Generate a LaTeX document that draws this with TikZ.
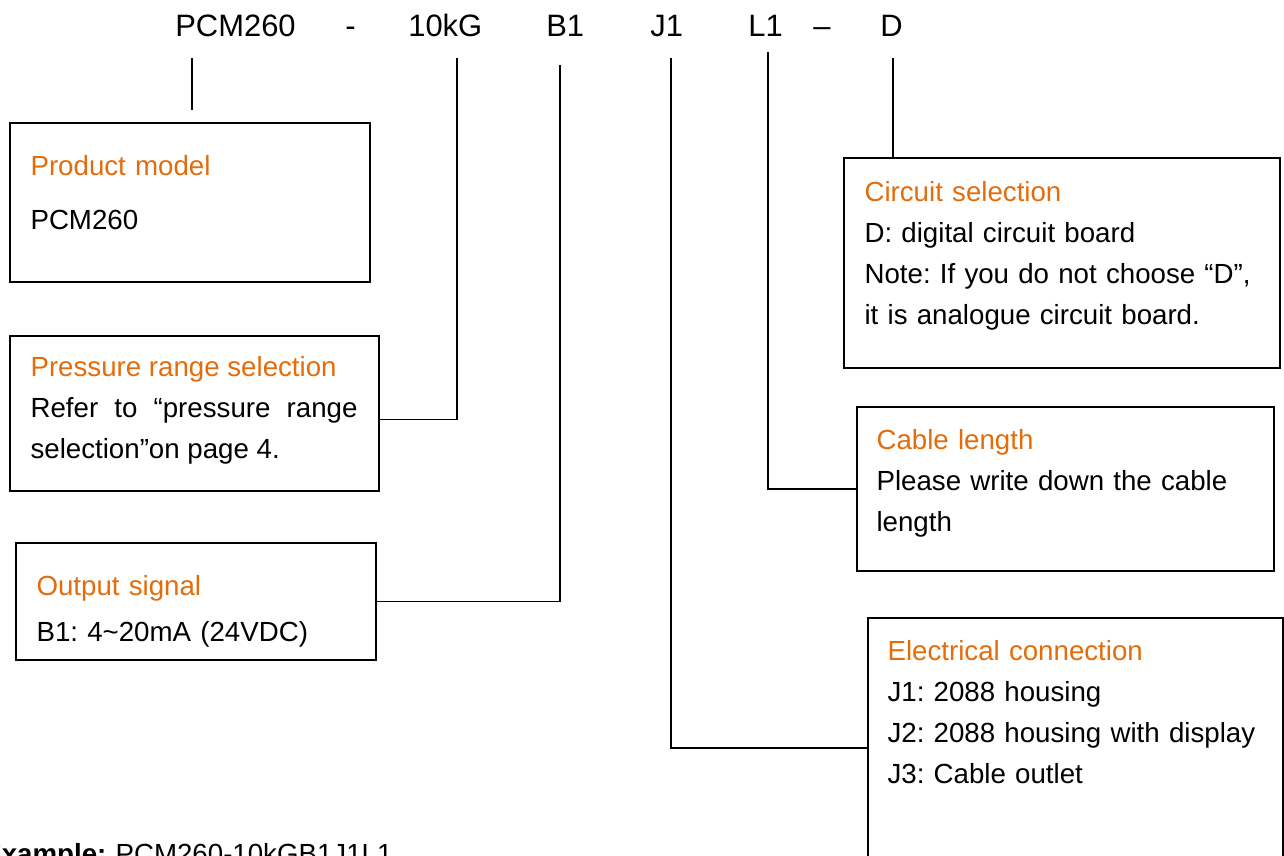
\documentclass[tikz,border=0pt]{standalone}
\usepackage{fontspec}
\setmainfont{Liberation Sans}
\usetikzlibrary{calc,fit}
\definecolor{titleorange}{RGB}{228,108,10}
\frenchspacing

\begin{document}
\begin{tikzpicture}[x=0.02cm,y=-0.02cm,
        bodyfont/.style={font=\fontsize{15.75}{23.3}\selectfont},
        codefont/.style={font=\fontsize{17.6}{21}\selectfont},
        codepart/.style={codefont,inner sep=0pt,anchor=base west},
        optbox/.style={draw,line width=0.9pt,inner sep=0pt},
        opttext/.style={bodyfont,inner sep=0pt,anchor=base west,text width=8.5cm,align=left},
        lead/.style={line width=0.8pt}]

        % page frame
        \useasboundingbox (0,0) rectangle (1284,855);
        \clip (0,0) rectangle (1284,855);

        % model code
        \node[codepart] (cModel) at (175,37) {PCM260};
        \node[codepart] (cDashA) at (345,37) {-};
        \node[codepart] (cRange) at (408,37) {10kG};
        \node[codepart] (cSignal) at (546,37) {B1};
        \node[codepart] (cConn) at (650,37) {J1};
        \node[codepart] (cCable) at (748,37) {L1};
        \node[codepart] (cDashB) at (813,37) {–};
        \node[codepart] (cCircuit) at (880,37) {D};

        % leader tops
        \coordinate (tModel) at (192,58);
        \coordinate (eModel) at (192,110);
        \coordinate (tRange) at (457,58);
        \coordinate (tSignal) at (560,65);
        \coordinate (tConn) at (671,58);
        \coordinate (tCable) at (768,52);
        \coordinate (tCircuit) at (893,58);

        % option boxes
        \node[optbox,fit={(10,123) (370,282)}] (bModel) {};
        \node[optbox,fit={(10,336) (379,491)}] (bRange) {};
        \node[optbox,fit={(16,543) (376,660)}] (bSignal) {};
        \node[optbox,fit={(844,158) (1280,368)}] (bCircuit) {};
        \node[optbox,fit={(857,407) (1274,571)}] (bCable) {};
        \node[optbox,fit={(868,618) (1283,878)}] (bConn) {};

        % box texts
        \node[opttext] (xModel) at ([shift={(21,53)}]bModel.north west)
            {\textcolor{titleorange}{Product model}\\[0.26cm]PCM260};
        \node[opttext,text width=6.54cm,align=justify] (xRange) at ([shift={(21,41)}]bRange.north west)
            {\textcolor{titleorange}{Pressure range selection}\\
             Refer to “pressure range selection”on page 4.};
        \node[opttext] (xSignal) at ([shift={(21,53)}]bSignal.north west)
            {\textcolor{titleorange}{Output signal}\\[0.1cm]B1: 4\textasciitilde20mA (24VDC)};
        \node[opttext] (xCircuit) at ([shift={(21,44)}]bCircuit.north west)
            {\textcolor{titleorange}{Circuit selection}\\
             D: digital circuit board\\
             Note: If you do not choose “D”,\\
             it is analogue circuit board.};
        \node[opttext] (xCable) at ([shift={(20,43)}]bCable.north west)
            {\textcolor{titleorange}{Cable length}\\
             Please write down the cable\\
             length};
        \node[opttext] (xConn) at ([shift={(20,43)}]bConn.north west)
            {\textcolor{titleorange}{Electrical connection}\\
             J1: 2088 housing\\
             J2: 2088 housing with display\\
             J3: Cable outlet};

        % leaders
        \draw[line width=1.6pt] (tModel) -- (eModel);
        \draw[lead] (tRange) |- ($(bRange.south east)!0.46!(bRange.north east)$);
        \draw[lead] (tSignal) |- (bSignal.east);
        \draw[lead] (tConn) |- (bConn.west);
        \draw[lead] (tCable) |- (bCable.west);
        \draw[lead] (tCircuit) -- (tCircuit |- bCircuit.north);

        % example line
        \node[opttext] (example) at (-17,863) {\textbf{Example:} PCM260-10kGB1J1L1};
\end{tikzpicture}
\end{document}
